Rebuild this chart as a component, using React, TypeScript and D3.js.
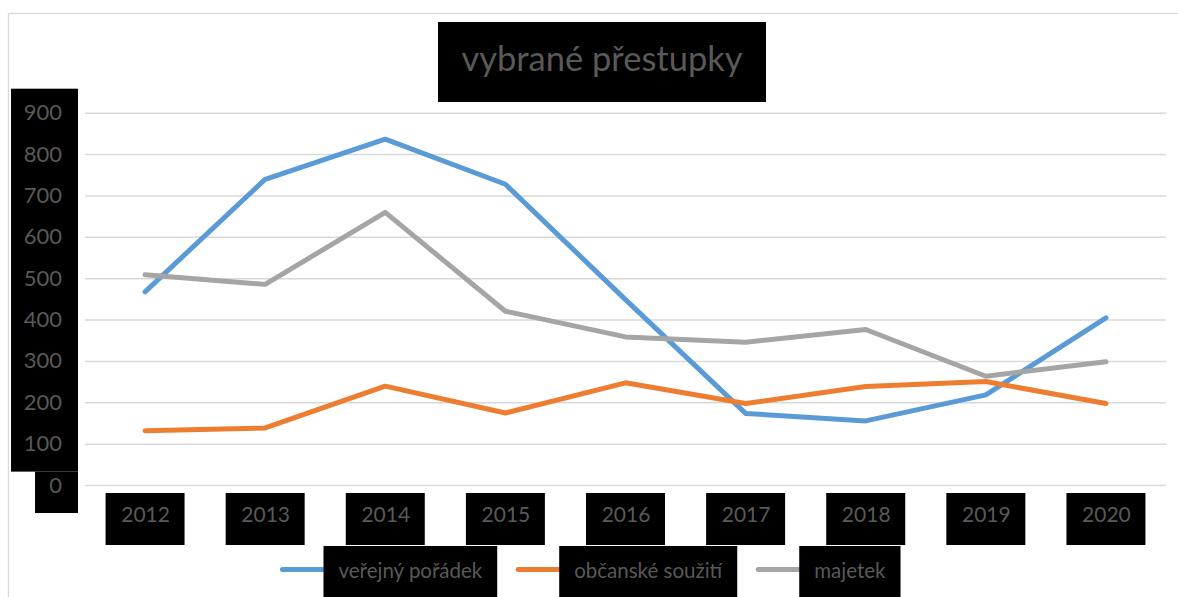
import React, { useEffect, useRef } from 'react';
import * as d3 from 'd3';

const years = ['2012', '2013', '2014', '2015', '2016', '2017', '2018', '2019', '2020'];
const verejnyPoradek = [467, 739, 836, 727, 448, 173, 155, 218, 404];
const obcanskeSouziti = [131, 138, 239, 174, 247, 197, 238, 250, 197];
const majetek = [508, 485, 659, 420, 358, 345, 376, 263, 298];
const yTicks = [0, 100, 200, 300, 400, 500, 600, 700, 800, 900];
const seriesNames = ['veřejný pořádek', 'občanské soužití', 'majetek'];
const seriesColors = ['#5B9BD5', '#ED7D31', '#A5A5A5'];
const title = 'vybrané přestupky';

const FONT = "Lato, 'Open Sans', sans-serif";
const TEXT_GRAY = '#595959';

const App: React.FC = () => {
    const svgRef = useRef<SVGSVGElement | null>(null);

    useEffect(() => {
        const width = 1178;
        const height = 597;
        const plot = { left: 85, right: 1166, top: 112.7, bottom: 485 };

        const svg = d3.select(svgRef.current)
            .attr('width', width)
            .attr('height', height);

        svg.selectAll('*').remove();

        // chart frame
        svg.append('rect')
            .attr('x', 8.5)
            .attr('y', 13.5)
            .attr('width', 1200)
            .attr('height', 620)
            .attr('fill', '#fff')
            .attr('stroke', '#d9d9d9')
            .attr('stroke-width', 1.3);

        const xScale = d3.scalePoint<string>()
            .domain(years)
            .range([plot.left, plot.right])
            .padding(0.5);

        const yScale = d3.scaleLinear()
            .domain([0, 900])
            .range([plot.bottom, plot.top]);

        // title
        svg.append('rect')
            .attr('x', 438).attr('y', 22)
            .attr('width', 328).attr('height', 80)
            .attr('fill', '#000');
        svg.append('text')
            .attr('x', 602)
            .attr('y', 71)
            .attr('text-anchor', 'middle')
            .attr('font-family', FONT)
            .attr('font-size', 34.5)
            .attr('fill', TEXT_GRAY)
            .text(title);

        // y label backgrounds
        svg.append('rect')
            .attr('x', 11).attr('y', yScale(900) - 24)
            .attr('width', 67).attr('height', yScale(100) + 28 - (yScale(900) - 24))
            .attr('fill', '#000');
        svg.append('rect')
            .attr('x', 35).attr('y', yScale(100) + 28)
            .attr('width', 43).attr('height', yScale(0) + 28 - (yScale(100) + 28))
            .attr('fill', '#000');

        // gridlines + y labels
        const yAxis = svg.append('g')
            .attr('transform', `translate(${plot.left},0)`)
            .call(d3.axisLeft(yScale).tickValues(yTicks).tickSize(-(plot.right - plot.left)).tickPadding(23));
        yAxis.select('.domain').remove();
        yAxis.selectAll('line')
            .attr('stroke', '#d9d9d9')
            .attr('stroke-width', 1.5);
        yAxis.selectAll('text')
            .attr('font-family', FONT)
            .attr('font-size', 22)
            .attr('fill', TEXT_GRAY);

        // x label boxes
        svg.append('g')
            .selectAll('rect')
            .data(years)
            .join('rect')
            .attr('x', d => (xScale(d) as number) - 39.5)
            .attr('y', 493)
            .attr('width', 79)
            .attr('height', 52)
            .attr('fill', '#000');

        const xAxis = svg.append('g')
            .attr('transform', `translate(0,${plot.bottom})`)
            .call(d3.axisBottom(xScale).tickSize(0).tickPadding(22));
        xAxis.select('.domain').remove();
        xAxis.selectAll('text')
            .attr('font-family', FONT)
            .attr('font-size', 21)
            .attr('fill', TEXT_GRAY);

        // lines
        const allSeries = [verejnyPoradek, obcanskeSouziti, majetek];
        const line = d3.line<number>()
            .x((_, i) => xScale(years[i]) as number)
            .y(d => yScale(d));

        // draw in Excel order: last series on top
        allSeries.forEach((values, i) => {
            svg.append('path')
                .datum(values)
                .attr('fill', 'none')
                .attr('stroke', seriesColors[i])
                .attr('stroke-width', 5)
                .attr('stroke-linejoin', 'round')
                .attr('stroke-linecap', 'round')
                .attr('d', line);
        });

        // legend
        const legendY = 569.5;
        const lineLen = 43;
        const pad = 15;
        const gap = 19;
        const legend = svg.append('g');
        const items = seriesNames.map((name, i) => {
            const g = legend.append('g');
            const l = g.append('line')
                .attr('stroke', seriesColors[i])
                .attr('stroke-width', 5)
                .attr('stroke-linecap', 'round');
            const r = g.append('rect').attr('fill', '#000');
            const t = g.append('text')
                .attr('font-family', FONT)
                .attr('font-size', 20.5)
                .attr('fill', TEXT_GRAY)
                .attr('dy', '0.35em')
                .text(name);
            const tw = (t.node() as SVGTextElement).getComputedTextLength();
            return { l, r, t, tw };
        });
        const total = d3.sum(items, d => lineLen + d.tw + 2 * pad) + gap * (items.length - 1);
        let cx = 590.5 - total / 2;
        items.forEach(({ l, r, t, tw }) => {
            l.attr('x1', cx + 2).attr('x2', cx + lineLen + 4).attr('y1', legendY).attr('y2', legendY);
            r.attr('x', cx + lineLen).attr('y', 546).attr('width', tw + 2 * pad).attr('height', 60);
            t.attr('x', cx + lineLen + pad).attr('y', legendY + 1);
            cx += lineLen + tw + 2 * pad + gap;
        });
    }, []);

    return (
        <svg
            ref={svgRef}
            style={{ position: 'absolute', left: 0, top: 0, display: 'block' }}
        ></svg>
    );
};

export default App;
